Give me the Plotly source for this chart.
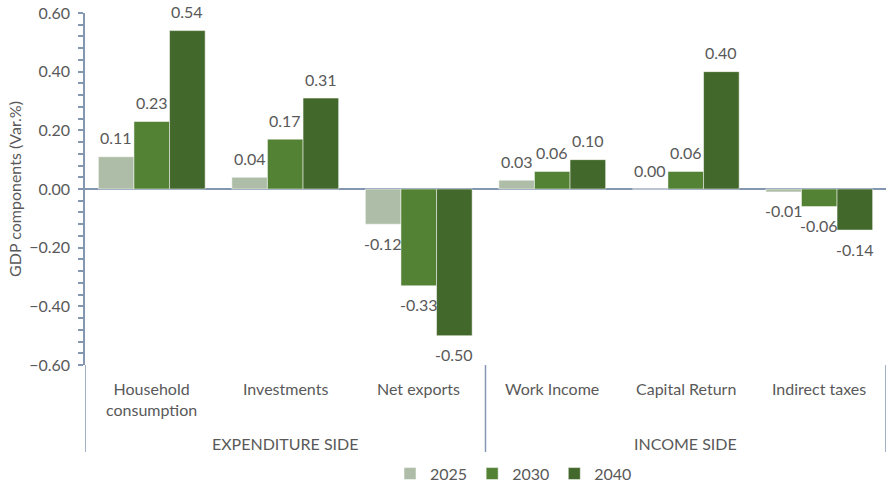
import plotly.graph_objects as go

# GDP component changes by scenario year
components = ["Household<br>consumption", "Investments", "Net exports",
              "Work Income", "Capital Return", "Indirect taxes"]
sides = ["EXPENDITURE SIDE", "INCOME SIDE"]
side_sizes = [3, 3]
years = ["2025", "2030", "2040"]
values_2025 = [0.11, 0.04, -0.12, 0.03, 0.00, -0.01]
values_2030 = [0.23, 0.17, -0.33, 0.06, 0.06, -0.06]
values_2040 = [0.54, 0.31, -0.50, 0.10, 0.40, -0.14]
colors = ["#AEBDA7", "#548235", "#43682B"]

TEXT = "#595959"
AXIS = "#8497B0"
FONT = "Lato"
FS = 16

BARGAP = 0.2
n_series = len(years)
bar_w = (1 - BARGAP) / n_series

fig = go.Figure()
annotations = []
for k, (year, vals, col) in enumerate(zip(years, [values_2025, values_2030, values_2040], colors)):
    fig.add_trace(go.Bar(
        x=components, y=vals, name=year,
        marker=dict(color=col, line=dict(color="rgba(255,255,255,0.5)", width=1)),
    ))
    # value labels, placed beside the end of each bar
    offset = (k - (n_series - 1) / 2) * bar_w
    for i, v in enumerate(vals):
        annotations.append(dict(
            x=i + offset, y=v, xref="x", yref="y",
            text=f"{v:.2f}", showarrow=False,
            yanchor="middle", yshift=19 if v >= 0 else -19,
            font=dict(size=FS, color=TEXT, family=FONT),
        ))

# category labels under the plot
for i, c in enumerate(components):
    annotations.append(dict(
        x=i, y=-0.034, xref="x", yref="paper", text=c, showarrow=False,
        yanchor="top", font=dict(size=FS, color=TEXT, family=FONT),
    ))

# side group labels and dividers
shapes = []
start = 0
for side, size in zip(sides, side_sizes):
    mid = start + (size - 1) / 2
    annotations.append(dict(
        x=mid, y=-0.2216, xref="x", yref="paper", text=side, showarrow=False,
        yanchor="middle", font=dict(size=FS, color=TEXT, family=FONT),
    ))
    start += size
boundaries = [-0.5]
acc = -0.5
for size in side_sizes:
    acc += size
    boundaries.append(acc)
for b in boundaries:
    shapes.append(dict(type="line", xref="x", yref="paper", x0=b, x1=b,
                       y0=0, y1=-0.247, line=dict(color=AXIS, width=1.5)))

fig.update_layout(
    width=887, height=491,
    margin=dict(l=85, r=1, t=13, b=126),
    paper_bgcolor="white", plot_bgcolor="white",
    barmode="group", bargap=BARGAP, bargroupgap=0,
    font=dict(family=FONT, color=TEXT, size=FS),
    legend=dict(orientation="h", xanchor="center", x=0.535,
                yanchor="bottom", y=-0.357,
                font=dict(size=FS, color=TEXT), itemwidth=30,
                traceorder="normal"),
    annotations=annotations, shapes=shapes,
)
fig.update_xaxes(
    type="category", range=[-0.5, len(components) - 0.5],
    showline=False, ticks="", showticklabels=False, showgrid=False,
)
fig.update_yaxes(
    range=[-0.6, 0.6], dtick=0.2, tickformat=".2f",
    showgrid=False, showline=True, linecolor=AXIS, linewidth=1.5,
    ticks="outside", ticklen=5, tickcolor=AXIS, tickwidth=1.5,
    minor=dict(ticks="outside", ticklen=5, tickcolor=AXIS, dtick=0.04, showgrid=False),
    zeroline=True, zerolinecolor=AXIS, zerolinewidth=1.5,
    ticklabelstandoff=5,
    title=dict(text="GDP components (Var.%)", font=dict(size=FS, color=TEXT), standoff=4),
    tickfont=dict(size=FS, color=TEXT),
)

fig.write_html("out.html")
